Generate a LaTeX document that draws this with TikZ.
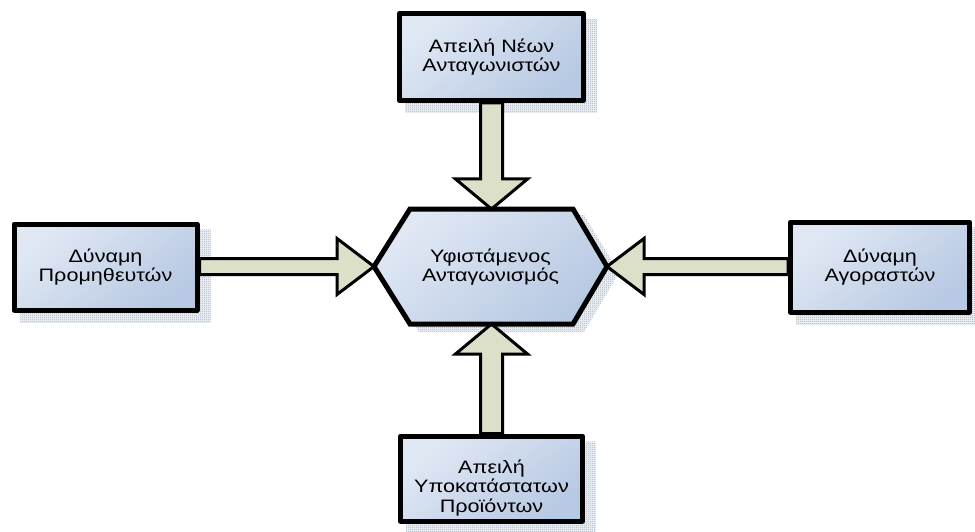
\documentclass[tikz,border=0pt]{standalone}
\usepackage{fontspec}
\setmainfont{Liberation Sans}[FakeStretch=1.2]
\usetikzlibrary{calc,patterns}
\definecolor{boxtop}{HTML}{E0E8F4}
\definecolor{boxbot}{HTML}{B8C9E3}
\definecolor{arrfill}{HTML}{DCE0C9}
\definecolor{shadc}{HTML}{E6EAF1}
\definecolor{shaddot}{HTML}{8193B6}
\pgfdeclarepatternformonly{finedots}{\pgfpointorigin}{\pgfpoint{2pt}{2pt}}{\pgfpoint{2pt}{2pt}}{%
  \pgfpathrectangle{\pgfpointorigin}{\pgfpoint{1pt}{1pt}}\pgfusepath{fill}}
\pgfdeclarelayer{shadowlayer}
\pgfdeclarelayer{arrowlayer}
\pgfsetlayers{shadowlayer,arrowlayer,main}
% from, to, shaft half width, head half width, head length
\newcommand{\blockarr}[5]{%
  \path ($(#2)!#5!(#1)$) coordinate (abase);
  \draw[blockarrow] ($(#1)!#3!90:(#2)$) -- ($(abase)!#3!90:(#2)$) -- ($(abase)!#4!90:(#2)$) -- (#2)
     -- ($(abase)!#4!-90:(#2)$) -- ($(abase)!#3!-90:(#2)$) -- ($(#1)!#3!-90:(#2)$) -- cycle;}
\tikzset{
  txt/.style={align=center, font=\fontsize{18}{19.2}\selectfont, inner sep=0pt},
  box/.style={draw=black, line width=5pt, line join=round, top color=boxtop, bottom color=boxbot,
     shading angle=40, inner sep=0pt, txt},
  hexstyle/.style={draw=black, line width=5pt, line join=miter, top color=boxtop, bottom color=boxbot, shading angle=40},
  blockarrow/.style={draw=black, line width=3pt, line join=miter, fill=arrfill},
  shadowstyle/.style={fill=shadc, postaction={pattern=finedots, pattern color=shaddot}},
}
\begin{document}
\begin{tikzpicture}[x=1pt,y=-1pt]
\useasboundingbox (0,0) rectangle (975,532);
% boxes
\node[box, minimum width=184pt, minimum height=87pt] (top) at (491.5,57) {Απειλή Νέων\\Ανταγωνιστών};
\node[box, minimum width=183pt, minimum height=86pt] (left) at (105.5,267) {Δύναμη\\Προμηθευτών};
\node[box, minimum width=179pt, minimum height=90pt] (right) at (880,267) {Δύναμη\\Αγοραστών};
\node[box, minimum width=182pt, minimum height=85pt] (bottom) at (491.5,478.5) {};
\node[txt] (bottomtext) at (491.5,488) {Απειλή\\Υποκατάστατων\\Προϊόντων};
% hexagon
\coordinate (hl) at (374,266.5);
\coordinate (htl) at (410,209);
\coordinate (htr) at (573,209);
\coordinate (hr) at (607,266.5);
\coordinate (hbr) at (573,324);
\coordinate (hbl) at (410,324);
\coordinate (ht) at ($(htl)!0.5!(htr)$);
\coordinate (hb) at ($(hbl)!0.5!(hbr)$);
\draw[hexstyle] (hl) -- (htl) -- (htr) -- (hr) -- (hbr) -- (hbl) -- cycle;
\node[txt] (hex) at (490.5,267) {Υφιστάμενος\\Ανταγωνισμός};
% arrows
\begin{pgfonlayer}{arrowlayer}
\blockarr{top.south}{ht}{11pt}{36pt}{30pt}
\blockarr{bottom.north}{hb}{11pt}{36pt}{30pt}
\blockarr{left.east |- hl}{hl}{8pt}{28pt}{37pt}
\blockarr{right.west |- hr}{hr}{8pt}{28pt}{37pt}
\end{pgfonlayer}
% shadows
\begin{pgfonlayer}{shadowlayer}
\foreach \n in {top,left,right,bottom}{
  \fill[shadowstyle] ($(\n.north west)+(8,8)$) rectangle ($(\n.south east)+(11,10)$);
}
\fill[shadowstyle] ([shift={(9,6)}]hl) -- ([shift={(9,6)}]htl) -- ([shift={(11,6)}]htr) -- ([shift={(12,6)}]hr)
   -- ([shift={(11,8)}]hbr) -- ([shift={(9,8)}]hbl) -- cycle;
\end{pgfonlayer}
\end{tikzpicture}
\end{document}
